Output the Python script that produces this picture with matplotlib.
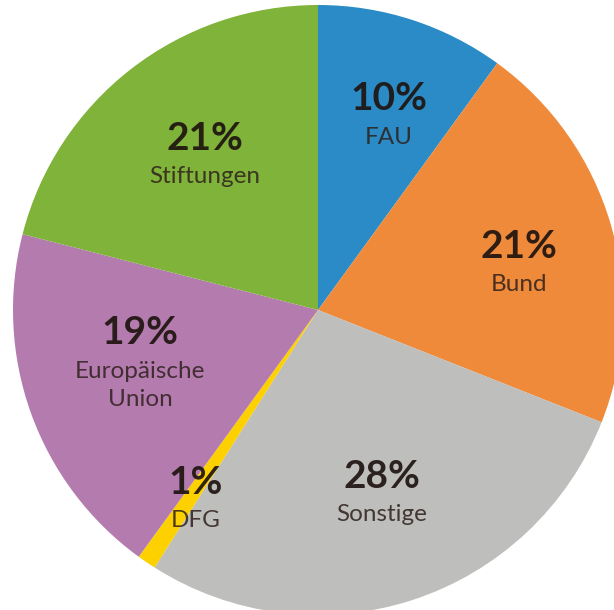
import matplotlib
matplotlib.use("Agg")
import matplotlib.pyplot as plt

categories = ["FAU", "Bund", "Sonstige", "DFG", "Europäische\nUnion", "Stiftungen"]
values = [10, 21, 28, 1, 19, 21]
pct_labels = ["10%", "21%", "28%", "1%", "19%", "21%"]
colors = ["#2a8bc6", "#ee8a3a", "#bebebc", "#fdd000", "#b47bae", "#80b33a"]

# label anchor positions (pixel coordinates of the percentage text centre)
pct_px = [(389, 99), (519, 246), (382, 476), (196, 482), (140, 333), (205, 138)]

W, H = 614, 610
CX, CY, R = 318, 310, 305

fig = plt.figure(figsize=(W / 100, H / 100), dpi=100)
ax = fig.add_axes([0, 0, 1, 1])
ax.pie(values, colors=colors, startangle=90, counterclock=False,
       radius=1.0, center=(0, 0), wedgeprops=dict(linewidth=0))
ax.set_xlim(-CX / R, (W - CX) / R)
ax.set_ylim(-(H - CY) / R, CY / R)
ax.set_aspect("auto")
ax.axis("off")

def to_data(px, py):
    return (px - CX) / R, (CY - py) / R

for (px, py), p, c in zip(pct_px, pct_labels, categories):
    x, y = to_data(px, py)
    ax.text(x, y, p, ha="center", va="center", fontsize=28, fontweight="bold",
            family="Lato", color="#1f1410", alpha=0.92)
    ax.text(x, y - 0.093, c, ha="center", va="top", fontsize=17.5,
            family="Lato", color="#2e201c", alpha=0.85, linespacing=1.4)

fig.savefig("out.png", dpi=100)
